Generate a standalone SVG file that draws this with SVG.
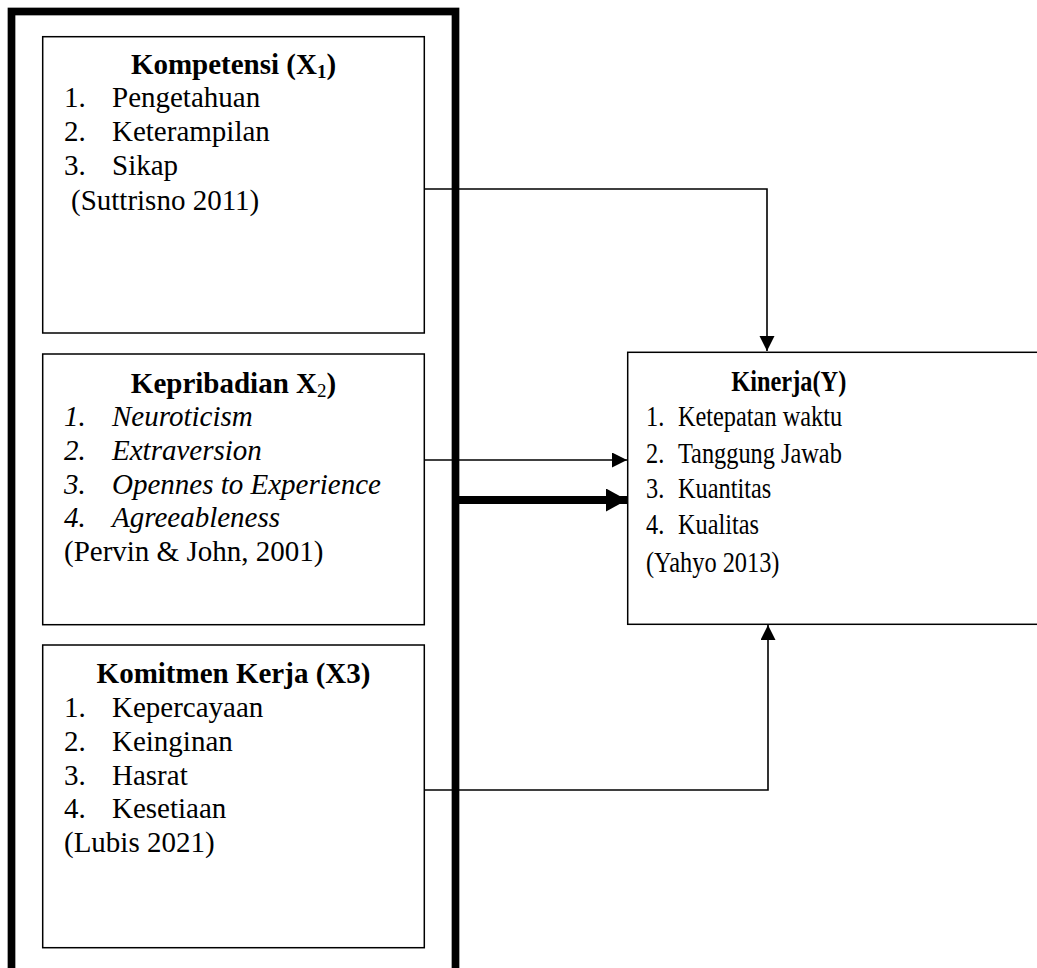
<svg xmlns="http://www.w3.org/2000/svg" width="1037" height="968" viewBox="0 0 1037 968">
<style>
text{font-family:"Liberation Serif","Times New Roman",serif;font-size:29px;fill:#000}
.b{font-weight:bold}
.i{font-style:italic}
.box{fill:#fff;stroke:#000;stroke-width:1.5}
.ln{fill:none;stroke:#000;stroke-width:1.6}
.thick{fill:none;stroke:#000;stroke-width:8}
.sub{font-size:19px}
</style>
<defs>
<marker id="ah" markerUnits="userSpaceOnUse" markerWidth="16" markerHeight="16" refX="15" refY="7.5" orient="auto">
<polygon points="0,0 15,7.5 0,15" fill="#000"/>
</marker>
<marker id="ahT" markerUnits="userSpaceOnUse" markerWidth="22" markerHeight="24" refX="21" refY="11.5" orient="auto">
<polygon points="0,0 21,11.5 0,23" fill="#000"/>
</marker>
</defs>
<rect id="frame" x="11.5" y="11.5" width="444" height="970" fill="none" stroke="#000" stroke-width="7.7"/>
<g id="connectors">
<path class="ln" d="M424,189 H767 V351" marker-end="url(#ah)"/>
<path class="ln" d="M424,460 H627" marker-end="url(#ah)"/>
<path class="thick" d="M456,500 H627" marker-end="url(#ahT)"/>
<path class="ln" d="M424,790 H768 V625" marker-end="url(#ah)"/>
</g>
<g id="kompetensi">
<rect class="box" x="42.7" y="36.7" width="381.6" height="296.3"/>
<text class="b" x="233.5" y="74" text-anchor="middle">Kompetensi (X<tspan class="sub" dy="4">1</tspan><tspan dy="-4">)</tspan></text>
<text x="64" y="107">1.</text><text x="112" y="107">Pengetahuan</text>
<text x="64" y="141">2.</text><text x="112" y="141">Keterampilan</text>
<text x="64" y="175">3.</text><text x="112" y="175">Sikap</text>
<text x="71" y="210">(Suttrisno 2011)</text>
</g>
<g id="kepribadian">
<rect class="box" x="42.7" y="354" width="381.6" height="270.7"/>
<text class="b" x="233.5" y="393" text-anchor="middle">Kepribadian X<tspan class="sub" font-weight="normal" dy="4">2</tspan><tspan dy="-4">)</tspan></text>
<text class="i" x="64" y="426">1.</text><text class="i" x="112" y="426">Neuroticism</text>
<text class="i" x="64" y="460">2.</text><text class="i" x="112" y="460">Extraversion</text>
<text class="i" x="64" y="494">3.</text><text class="i" x="112" y="494">Opennes to Experience</text>
<text class="i" x="64" y="527">4.</text><text class="i" x="112" y="527">Agreeableness</text>
<text x="64" y="561">(Pervin &amp; John, 2001)</text>
</g>
<g id="komitmen">
<rect class="box" x="42.7" y="645" width="381.6" height="302.7"/>
<text class="b" x="233.5" y="683" text-anchor="middle">Komitmen Kerja (X3)</text>
<text x="64" y="717">1.</text><text x="112" y="717">Kepercayaan</text>
<text x="64" y="751">2.</text><text x="112" y="751">Keinginan</text>
<text x="64" y="785">3.</text><text x="112" y="785">Hasrat</text>
<text x="64" y="818">4.</text><text x="112" y="818">Kesetiaan</text>
<text x="64" y="852">(Lubis 2021)</text>
</g>
<g id="kinerja">
<rect class="box" x="627.7" y="352.3" width="420" height="272"/>
<g transform="translate(646,0) scale(0.84,1)">
<text class="b" x="170" y="391" text-anchor="middle">Kinerja(Y)</text>
<text x="0" y="426">1.</text><text x="38" y="426">Ketepatan waktu</text>
<text x="0" y="463">2.</text><text x="38" y="463">Tanggung Jawab</text>
<text x="0" y="498">3.</text><text x="38" y="498">Kuantitas</text>
<text x="0" y="534">4.</text><text x="38" y="534">Kualitas</text>
<text x="0" y="572">(Yahyo 2013)</text>
</g>
</g>
</svg>
